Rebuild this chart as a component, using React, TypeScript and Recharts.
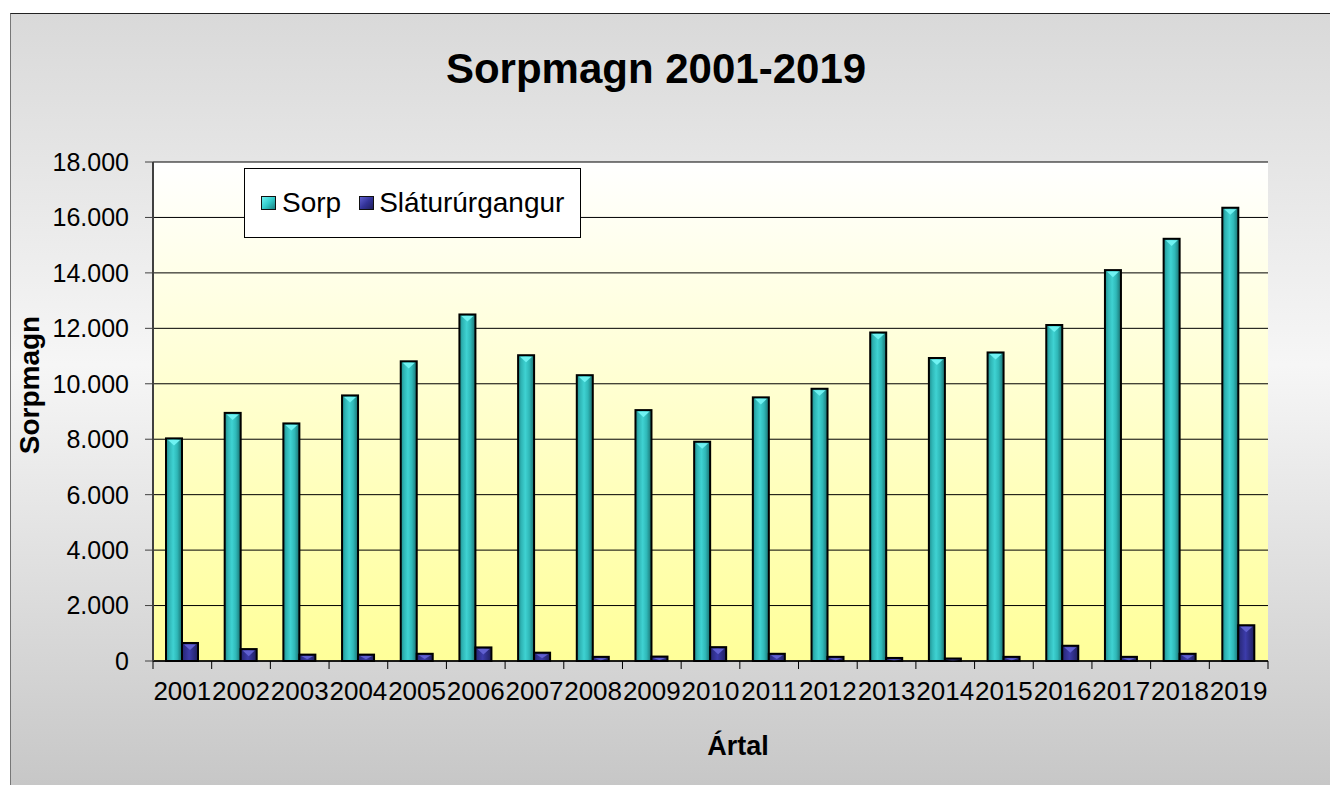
import React from 'react';
import { BarChart, Bar, XAxis, YAxis, CartesianGrid } from 'recharts';

// Ár, sorpmagn og sláturúrgangur (tonn), lesið af myndinni
const years = ['2001', '2002', '2003', '2004', '2005', '2006', '2007', '2008', '2009', '2010',
  '2011', '2012', '2013', '2014', '2015', '2016', '2017', '2018', '2019'];
const sorp = [8030, 8950, 8570, 9580, 10810, 12500, 11030, 10310, 9050, 7910,
  9510, 9820, 11850, 10930, 11130, 12120, 14100, 15230, 16350];
const slatururgangur = [650, 430, 230, 230, 260, 490, 300, 150, 160, 500,
  260, 150, 110, 90, 150, 550, 150, 260, 1290];
const yTicks = [0, 2000, 4000, 6000, 8000, 10000, 12000, 14000, 16000, 18000];

const data = years.map((year, i) => ({ year, sorp: sorp[i], slatur: slatururgangur[i] }));

const FONT = '"Liberation Sans", Arial, sans-serif';
const TICK_SIZE = 8;
const TICK_MARGIN = 13;

const fmt = (v: number) => String(v).replace(/\B(?=(\d{3})+(?!\d))/g, '.');

// bevelled bar like the old Excel 3D look
const CylBar = (props: any) => {
  const { x, y, width, height, grad, tip } = props;
  if (!height || height <= 0) return null;
  const t = Math.min(width * 0.35, height / 2);
  return (
    <g>
      <rect x={x} y={y} width={width} height={height} fill={grad} stroke="#000" strokeWidth={2} />
      <path d={`M${x + 2},${y + 1.5} L${x + width - 2},${y + 1.5} L${x + width / 2},${y + 1.5 + t} Z`} fill={tip} />
    </g>
  );
};

// year labels centred in the category, tick marks on the category borders
const YearTick = (props: any) => {
  const { x, y, payload, index } = props;
  const half = payload?.offset ?? 0;
  const axisY = y - TICK_MARGIN - TICK_SIZE;
  return (
    <g>
      <line x1={x - half} x2={x - half} y1={axisY} y2={axisY + TICK_SIZE} stroke="#000" />
      {index === years.length - 1 && (
        <line x1={x + half} x2={x + half} y1={axisY} y2={axisY + TICK_SIZE} stroke="#000" />
      )}
      <text x={x} y={y} dy="0.71em" textAnchor="middle" fill="#000" fontSize={26} fontFamily={FONT}>
        {payload.value}
      </text>
    </g>
  );
};

const LegendSwatch = ({ bg }: { bg: string }) => (
  <span style={{ display: 'inline-block', width: 15, height: 14, border: '1.5px solid #111', background: bg, boxSizing: 'border-box' }} />
);

export default function App() {
  return (
    <div style={{ position: 'fixed', left: 0, top: 0, width: 1330, height: 785, overflow: 'hidden', background: '#fff', fontFamily: FONT }}>
      <div
        style={{
          position: 'absolute', left: 10, top: 13, width: 1330, height: 780,
          borderTop: '1px solid #222', borderLeft: '1px solid #777',
          background: 'linear-gradient(180deg, #d9d9d9 0%, #f6f6f6 45%, #c6c6c6 100%)',
        }}
      />
      <div style={{ position: 'absolute', left: 0, top: 0 }}>
        <BarChart
          width={1330}
          height={785}
          data={data}
          margin={{ top: 162, right: 62, bottom: 84, left: 0 }}
          barSize={16}
          barGap={0}
        >
          <defs>
            <linearGradient id="plotBg" x1="0" y1="0" x2="0" y2="1">
              <stop offset="0%" stopColor="#ffffff" />
              <stop offset="100%" stopColor="#ffff99" />
            </linearGradient>
            <linearGradient id="sorpGrad" x1="0" y1="0" x2="1" y2="0">
              <stop offset="0%" stopColor="#1f8a8a" />
              <stop offset="20%" stopColor="#2fb5b5" />
              <stop offset="45%" stopColor="#3fd2d2" />
              <stop offset="70%" stopColor="#2fb8b8" />
              <stop offset="100%" stopColor="#1a6f6f" />
            </linearGradient>
            <linearGradient id="slaturGrad" x1="0" y1="0" x2="1" y2="0">
              <stop offset="0%" stopColor="#262673" />
              <stop offset="45%" stopColor="#3c3caa" />
              <stop offset="100%" stopColor="#1f1f5c" />
            </linearGradient>
          </defs>
          <CartesianGrid vertical={false} stroke="#000" fill="url(#plotBg)" fillOpacity={1} />
          <XAxis
            dataKey="year"
            interval={0}
            tickLine={false}
            tickSize={TICK_SIZE}
            tickMargin={TICK_MARGIN}
            tick={<YearTick />}
            axisLine={{ stroke: '#000', strokeWidth: 1.5 }}
            height={40}
          />
          <XAxis xAxisId="top" dataKey="year" orientation="top" height={0} tick={false} tickLine={false} axisLine={{ stroke: '#8a8a8a', strokeWidth: 2 }} />
          <YAxis
            width={153}
            domain={[0, 18000]}
            ticks={yTicks}
            tickFormatter={fmt}
            tickSize={TICK_SIZE}
            tickMargin={16}
            tick={{ fill: '#000', fontSize: 25, fontFamily: FONT }}
            axisLine={{ stroke: '#404040', strokeWidth: 2 }}
            tickLine={{ stroke: '#404040' }}
          />
          <YAxis yAxisId="right" orientation="right" width={0} domain={[0, 18000]} tick={false} tickLine={false} axisLine={{ stroke: '#8a8a8a', strokeWidth: 2 }} />
          <Bar
            dataKey="sorp"
            name="Sorp"
            isAnimationActive={false}
            shape={(p: any) => <CylBar {...p} grad="url(#sorpGrad)" tip="#6ff2f2" />}
          />
          <Bar
            dataKey="slatur"
            name="Sláturúrgangur"
            isAnimationActive={false}
            shape={(p: any) => <CylBar {...p} grad="url(#slaturGrad)" tip="#6060d0" />}
          />
        </BarChart>
      </div>

      <div style={{ position: 'absolute', left: 0, top: 48, width: 1312, textAlign: 'center', fontSize: 42, lineHeight: '42px', fontWeight: 'bold', color: '#000' }}>
        Sorpmagn 2001-2019
      </div>

      <div
        style={{
          position: 'absolute', left: 244, top: 168, width: 337, height: 70, boxSizing: 'border-box',
          border: '1px solid #000', background: '#fff', display: 'flex', alignItems: 'center',
          paddingLeft: 16, fontSize: 28, color: '#000', whiteSpace: 'nowrap',
        }}
      >
        <LegendSwatch bg="linear-gradient(135deg, #6ff2f2 0%, #33cccc 50%, #1a7f7f 100%)" />
        <span style={{ marginLeft: 6, marginRight: 18 }}>Sorp</span>
        <LegendSwatch bg="linear-gradient(135deg, #6060d0 0%, #333399 50%, #1f1f5c 100%)" />
        <span style={{ marginLeft: 5 }}>Sláturúrgangur</span>
      </div>

      <div
        style={{
          position: 'absolute', left: 30, top: 385, transform: 'translate(-50%, -50%) rotate(-90deg)',
          fontSize: 28, lineHeight: '28px', fontWeight: 'bold', whiteSpace: 'nowrap', color: '#000',
        }}
      >
        Sorpmagn
      </div>

      <div style={{ position: 'absolute', left: 738, top: 733, transform: 'translateX(-50%)', fontSize: 27, lineHeight: '27px', fontWeight: 'bold', whiteSpace: 'nowrap', color: '#000' }}>
        Ártal
      </div>
    </div>
  );
}
